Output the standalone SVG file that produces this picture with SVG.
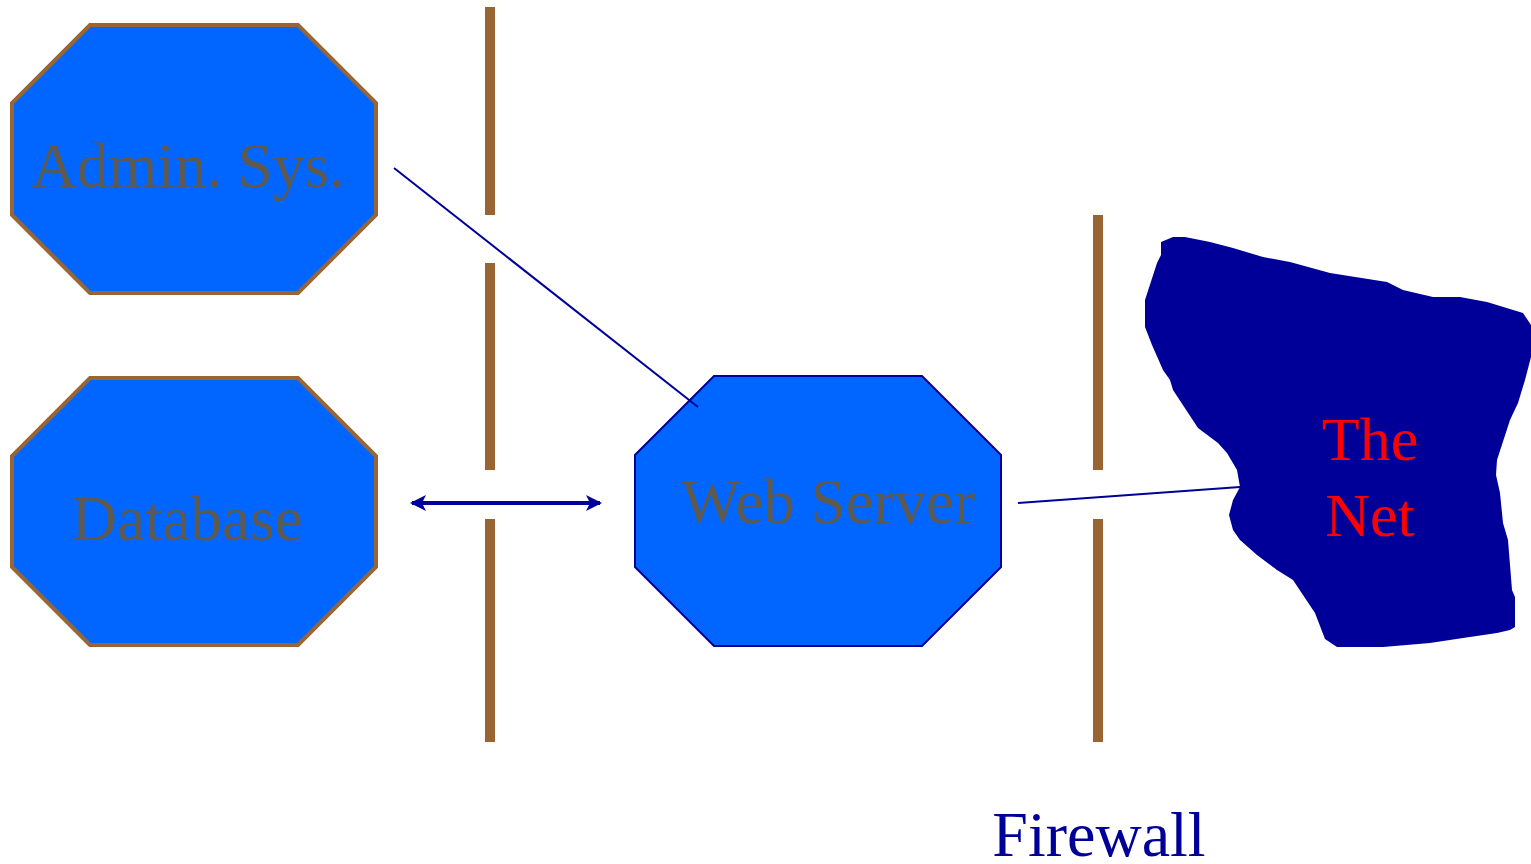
<svg xmlns="http://www.w3.org/2000/svg" width="1531" height="864" viewBox="0 0 1531 864">
  <style>
    .oct-brown { fill: #0066ff; stroke: #996633; stroke-width: 4; }
    .oct-navy { fill: #0066ff; stroke: #000099; stroke-width: 2; }
    .label { font-family: "Liberation Serif", "Times New Roman", serif; font-size: 63px; fill: #5f5a4f; text-anchor: middle; }
    .net-label { font-family: "Liberation Serif", "Times New Roman", serif; font-size: 62px; fill: #ff0000; text-anchor: middle; }
    .fw-label { font-family: "Liberation Serif", "Times New Roman", serif; font-size: 64px; fill: #000099; text-anchor: middle; }
    .wall { fill: #996633; }
    .link { stroke: #000099; stroke-width: 2; fill: none; }
    .link-thick { stroke: #000099; stroke-width: 4; fill: none; }
  </style>
  <defs>
    <marker id="arrowhead" viewBox="0 0 16 16" refX="14" refY="8" markerWidth="16" markerHeight="16" orient="auto-start-reverse" markerUnits="userSpaceOnUse">
      <path d="M0,0 L16,8 L0,16 L4,8 Z" fill="#000099"/>
    </marker>
  </defs>

  <rect width="1531" height="864" fill="#ffffff"/>

  <!-- firewall segments -->
  <g id="firewall-inner">
    <rect class="wall" x="485" y="7" width="10" height="208"/>
    <rect class="wall" x="485" y="263" width="10" height="207"/>
    <rect class="wall" x="485" y="519" width="10" height="223"/>
  </g>
  <g id="firewall-outer">
    <rect class="wall" x="1093" y="215" width="10" height="255"/>
    <rect class="wall" x="1093" y="519" width="10" height="223"/>
  </g>

  <g id="admin-sys">
    <polygon class="oct-brown" points="90,25 298,25 376,103 376,215 298,293 90,293 12,215 12,103"/>
    <text class="label" x="188" y="187">Admin. Sys.</text>
  </g>

  <g id="database">
    <polygon class="oct-brown" points="90,378 298,378 376,456 376,567 298,645 90,645 12,567 12,456"/>
    <text class="label" x="187" y="540">Database</text>
  </g>

  <g id="web-server">
    <polygon class="oct-navy" points="714,376 922,376 1001,455 1001,567 922,646 714,646 635,567 635,455"/>
    <text class="label" x="828" y="523">Web Server</text>
  </g>

  <g id="the-net">
    <polygon fill="#000099" points="1161,242 1173,237 1185,237 1210,242 1233,248 1263,257 1290,262 1330,273 1387,282 1403,290 1433,297 1460,297 1487,302 1523,313 1531,325 1531,357 1525,380 1518,403 1510,420 1497,460 1496,475 1500,493 1503,523 1508,540 1512,590 1515,597 1515,627 1510,630 1497,633 1463,638 1430,643 1383,647 1337,647 1325,639 1315,613 1293,580 1277,570 1257,555 1240,540 1233,530 1229,515 1233,500 1240,487 1237,470 1227,453 1218,443 1210,437 1198,428 1173,390 1170,380 1163,370 1152,345 1145,327 1145,300 1157,263 1161,255"/>
    <text class="net-label" x="1370" y="460">The</text>
    <text class="net-label" x="1370" y="536">Net</text>
  </g>

  <g id="connectors">
    <line class="link" x1="394" y1="168" x2="698" y2="407"/>
    <line class="link" x1="1018" y1="503" x2="1240" y2="487"/>
    <line class="link-thick" x1="412" y1="503" x2="600" y2="503" marker-start="url(#arrowhead)" marker-end="url(#arrowhead)"/>
  </g>

  <text id="firewall-label" class="fw-label" x="1099" y="856">Firewall</text>
</svg>
